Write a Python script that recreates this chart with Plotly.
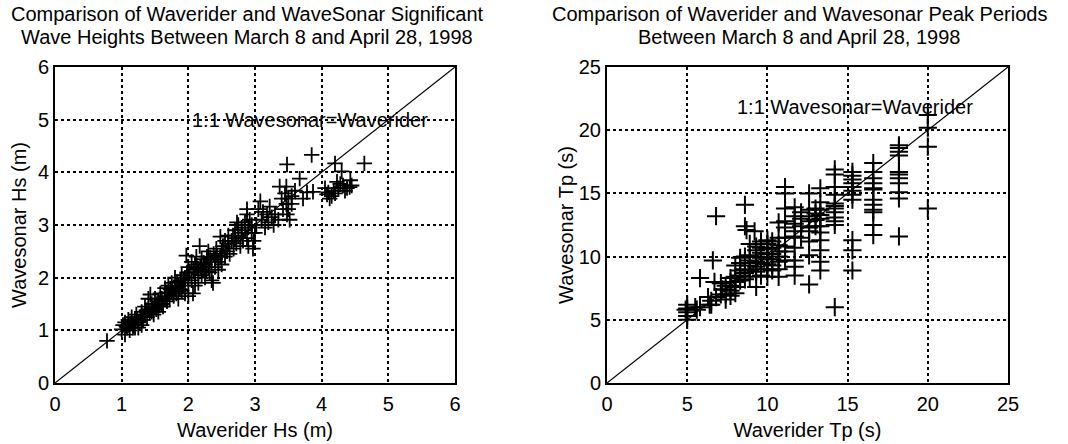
import plotly.graph_objects as go

# ---------------- data ----------------
# Left panel: significant wave heights (Waverider Hs, Wavesonar Hs), metres
hs_pairs = [
    (0.78, 0.80),
    (1.00, 1.02), (1.02, 1.10), (1.05, 0.92), (1.05, 1.15), (1.08, 1.05), (1.10, 1.10),
    (1.10, 1.20), (1.12, 1.00), (1.15, 1.15), (1.15, 1.25), (1.18, 1.10), (1.20, 1.05),
    (1.20, 1.20), (1.22, 1.30), (1.25, 1.15), (1.25, 1.05), (1.28, 1.25), (1.30, 1.35),
    (1.30, 1.10), (1.32, 1.20), (1.07, 1.08), (1.13, 1.12), (1.17, 1.05), (1.23, 1.22),
    (1.35, 1.30), (1.35, 1.45), (1.38, 1.25), (1.40, 1.40), (1.40, 1.60), (1.43, 1.68),
    (1.45, 1.35), (1.45, 1.50), (1.48, 1.30), (1.50, 1.45), (1.50, 1.60), (1.52, 1.40),
    (1.55, 1.55), (1.55, 1.35), (1.58, 1.70), (1.60, 1.50), (1.60, 1.60), (1.62, 1.45),
    (1.37, 1.38), (1.42, 1.33), (1.47, 1.42), (1.53, 1.50), (1.57, 1.48),
    (1.65, 1.65), (1.65, 1.80), (1.68, 1.55), (1.70, 1.70), (1.70, 1.85), (1.72, 1.60),
    (1.75, 1.75), (1.75, 1.90), (1.78, 1.65), (1.80, 1.80), (1.80, 2.00), (1.82, 1.70),
    (1.85, 1.85), (1.85, 1.60), (1.88, 1.95), (1.90, 1.75), (1.90, 2.05), (1.92, 1.85),
    (1.95, 1.70), (1.95, 2.00), (1.98, 2.10), (2.00, 1.90), (2.00, 2.20), (2.00, 1.65),
    (1.97, 2.42), (2.07, 1.70), (1.67, 1.72), (1.73, 1.78), (1.77, 1.70), (1.83, 1.92),
    (1.87, 1.78), (1.93, 1.95),
    (2.02, 2.10), (2.05, 1.95), (2.05, 2.30), (2.08, 2.15), (2.10, 2.00), (2.10, 2.25),
    (2.12, 2.40), (2.15, 2.10), (2.15, 1.90), (2.18, 2.20), (2.20, 2.05), (2.20, 2.35),
    (2.22, 2.15), (2.25, 2.25), (2.25, 2.00), (2.28, 2.40), (2.30, 2.20), (2.30, 2.50),
    (2.32, 2.10), (2.35, 2.30), (2.35, 1.95), (2.38, 2.45), (2.40, 2.20), (2.40, 2.35),
    (2.42, 2.55), (2.45, 2.30), (2.45, 2.15), (2.48, 2.40), (2.50, 2.50), (2.50, 2.25),
    (2.10, 1.85), (2.17, 2.60), (2.37, 1.90), (2.13, 2.18), (2.23, 2.28), (2.27, 2.12),
    (2.33, 2.38), (2.43, 2.42),
    (2.52, 2.60), (2.55, 2.40), (2.55, 2.70), (2.58, 2.50), (2.60, 2.65), (2.60, 2.80),
    (2.62, 2.45), (2.65, 2.70), (2.68, 2.55), (2.70, 2.75), (2.70, 2.90), (2.72, 2.65),
    (2.75, 2.80), (2.75, 3.00), (2.78, 2.60), (2.80, 2.85), (2.80, 2.95), (2.82, 2.70),
    (2.85, 2.90), (2.85, 3.05), (2.88, 2.75), (2.90, 2.95), (2.90, 2.60), (2.92, 3.10),
    (2.95, 2.85), (2.95, 3.00), (2.98, 2.70), (2.88, 3.20), (2.73, 3.05), (2.67, 2.80),
    (2.97, 2.55), (2.88, 3.30), (2.48, 2.78),
    (3.00, 2.85), (3.02, 3.00), (3.05, 3.30), (3.08, 3.45), (3.10, 3.10), (3.12, 3.25),
    (3.15, 2.95), (3.18, 3.20), (3.20, 3.05), (3.22, 3.35), (3.25, 3.15), (3.28, 3.00),
    (3.30, 3.20), (3.35, 3.10), (3.40, 3.50), (3.42, 3.30), (3.45, 3.60), (3.47, 3.40),
    (3.48, 3.20), (3.50, 3.50), (3.52, 3.10), (3.50, 3.30), (3.37, 3.73), (3.47, 3.73),
    (3.48, 4.15),
    (3.55, 3.55), (3.60, 3.65), (3.67, 3.88), (3.72, 3.50), (3.78, 3.62), (3.85, 4.33),
    (3.87, 3.63), (3.55, 3.40),
    (4.05, 3.70), (4.08, 3.58), (4.10, 3.62), (4.12, 3.50), (4.15, 3.55), (4.18, 3.65),
    (4.20, 3.60), (4.23, 3.82), (4.20, 4.17), (4.25, 3.70), (4.28, 3.78), (4.30, 4.02),
    (4.32, 3.75), (4.35, 3.65), (4.38, 3.70), (4.43, 3.85), (4.42, 3.72), (4.45, 3.75),
    (4.64, 4.17),
]
hs_waverider = [p[0] for p in hs_pairs]
hs_wavesonar = [p[1] for p in hs_pairs]

# Right panel: peak periods (Waverider Tp, Wavesonar Tp), seconds
tp_pairs = [
    (5.0, 5.0), (5.0, 5.3), (5.0, 5.6), (5.0, 5.9), (5.0, 6.2), (4.9, 5.8),
    (5.5, 6.0), (5.6, 5.8), (5.8, 8.3), (5.8, 6.0),
    (6.3, 6.8), (6.4, 6.2), (6.5, 6.5), (6.5, 6.2), (6.6, 9.7), (6.7, 8.0),
    (6.8, 13.2), (6.8, 6.8),
    (7.1, 7.9), (7.1, 7.0), (7.2, 7.4),
    (7.4, 6.6), (7.4, 7.0), (7.4, 7.4), (7.4, 7.7),
    (7.7, 6.9), (7.7, 7.3), (7.7, 7.7), (7.7, 8.0), (7.7, 8.3),
    (8.0, 7.1), (8.0, 7.6), (8.0, 8.0), (8.0, 8.4), (8.0, 9.3),
    (8.3, 8.1), (8.3, 8.5), (8.3, 8.9), (8.3, 9.5), (8.3, 9.9),
    (8.6, 8.2), (8.6, 8.7), (8.6, 9.0), (8.6, 9.5), (8.6, 10.0), (8.6, 12.4),
    (8.6, 14.1), (8.7, 12.1),
    (8.9, 8.4), (8.9, 8.9), (8.9, 9.3), (8.9, 9.7), (8.9, 10.1), (8.9, 11.0),
    (9.3, 7.6), (9.3, 8.8), (9.3, 9.2), (9.3, 9.6), (9.3, 10.0), (9.3, 10.5),
    (9.3, 10.8), (9.2, 12.0),
    (9.6, 8.5), (9.6, 9.0), (9.6, 9.5), (9.6, 9.9), (9.6, 10.3), (9.6, 10.7), (9.6, 11.2),
    (10.0, 8.4), (10.0, 9.0), (10.0, 9.4), (10.0, 9.8), (10.0, 10.2), (10.0, 10.6),
    (10.0, 11.0), (10.0, 11.3),
    (10.3, 8.9), (10.3, 9.3), (10.3, 9.8), (10.3, 10.2), (10.3, 10.7), (10.3, 11.2),
    (10.7, 8.4), (10.7, 9.0), (10.7, 9.6), (10.7, 10.0), (10.7, 10.4), (10.7, 10.9),
    (10.7, 11.5), (10.7, 12.7),
    (11.1, 9.7), (11.1, 10.4), (11.1, 10.8), (11.1, 11.5), (11.1, 12.3), (11.1, 12.8),
    (11.1, 13.8), (11.1, 15.0), (11.1, 15.5),
    (11.7, 8.5), (11.7, 9.2), (11.7, 9.7), (11.7, 10.7), (11.7, 11.6), (11.7, 12.0),
    (11.7, 12.6), (11.7, 13.2), (11.7, 13.9),
    (12.1, 11.5), (12.1, 12.4), (12.1, 13.0), (12.1, 13.5),
    (12.6, 7.8), (12.6, 10.1), (12.6, 11.2), (12.6, 12.0), (12.6, 12.3), (12.6, 12.8),
    (12.6, 13.2), (12.6, 13.7), (12.6, 15.0),
    (13.0, 12.4), (13.0, 12.9), (13.0, 13.4), (13.0, 13.8),
    (13.3, 8.9), (13.3, 9.6), (13.3, 10.5), (13.3, 11.3), (13.3, 11.9), (13.3, 12.4),
    (13.3, 13.0), (13.3, 13.3), (13.3, 13.7), (13.3, 14.3), (13.3, 15.4),
    (14.2, 6.0), (14.2, 12.5), (14.2, 12.8), (14.2, 13.1), (14.2, 13.5), (14.2, 13.8),
    (14.2, 14.0), (14.2, 14.2), (14.2, 14.9), (14.2, 15.5), (14.2, 16.5), (14.2, 16.9),
    (15.3, 8.9), (15.3, 10.5), (15.3, 11.3), (15.3, 14.5), (15.3, 14.9), (15.3, 15.2),
    (15.3, 15.5), (15.3, 15.8), (15.3, 16.1), (15.3, 16.4), (15.3, 16.7),
    (16.6, 11.7), (16.6, 12.5), (16.6, 13.5), (16.6, 13.7), (16.6, 14.1), (16.6, 14.5),
    (16.6, 15.3), (16.6, 15.4), (16.6, 15.8), (16.6, 16.2), (16.6, 16.7), (16.6, 17.4),
    (18.2, 11.6), (18.2, 14.6), (18.2, 15.1), (18.2, 15.8), (18.2, 16.2), (18.2, 16.5),
    (18.2, 16.7), (18.2, 18.0), (18.2, 18.3), (18.2, 18.6), (18.2, 18.8),
    (20.0, 13.8), (20.0, 18.7), (20.0, 20.2), (20.0, 21.2),
]
tp_waverider = [p[0] for p in tp_pairs]
tp_wavesonar = [p[1] for p in tp_pairs]

hs_ticks = [0, 1, 2, 3, 4, 5, 6]
tp_ticks = [0, 5, 10, 15, 20, 25]
hs_line = [0, 6]
tp_line = [0, 25]

left_title = ["Comparison of Waverider and WaveSonar Significant",
              "Wave Heights Between March 8 and April 28, 1998"]
right_title = ["Comparison of Waverider and Wavesonar Peak Periods",
               "Between March 8 and April 28, 1998"]
line_label = "1:1 Wavesonar=Waverider"

# ---------------- figure ----------------
W, H = 1068, 444
FONT = "Arial, Liberation Sans, sans-serif"
FS = 20

fig = go.Figure()

fig.add_trace(go.Scatter(x=hs_line, y=hs_line, mode="lines",
                         line=dict(color="black", width=1.2),
                         xaxis="x", yaxis="y", showlegend=False, hoverinfo="skip"))
fig.add_trace(go.Scatter(x=hs_waverider, y=hs_wavesonar, mode="markers",
                         marker=dict(symbol="cross-thin", size=11,
                                     line=dict(color="black", width=1.8)),
                         xaxis="x", yaxis="y", showlegend=False))
fig.add_trace(go.Scatter(x=tp_line, y=tp_line, mode="lines",
                         line=dict(color="black", width=1.2),
                         xaxis="x2", yaxis="y2", showlegend=False, hoverinfo="skip"))
fig.add_trace(go.Scatter(x=tp_waverider, y=tp_wavesonar, mode="markers",
                         marker=dict(symbol="cross-thin", size=13,
                                     line=dict(color="black", width=2)),
                         xaxis="x2", yaxis="y2", showlegend=False))


def px_x(p):
    return p / W


def px_y(p):
    return 1 - p / H


axis_common = dict(
    showline=True, linecolor="black", linewidth=2, mirror=True,
    showgrid=True, gridcolor="black", gridwidth=1.6, griddash="dot",
    zeroline=False, ticks="", automargin=False,
    tickfont=dict(family=FONT, size=FS, color="black"),
    title_font=dict(family=FONT, size=FS, color="black"),
)

fig.update_layout(
    width=W, height=H,
    margin=dict(l=0, r=0, t=0, b=0),
    paper_bgcolor="white", plot_bgcolor="white",
    font=dict(family=FONT, size=FS, color="black"),
    xaxis=dict(axis_common, domain=[px_x(55), px_x(455)], range=[0, 6],
               tickvals=hs_ticks, anchor="y", ticklabelstandoff=2,
               title=dict(text="Waverider Hs (m)", standoff=9)),
    yaxis=dict(axis_common, domain=[px_y(383), px_y(67)], range=[0, 6],
               tickvals=hs_ticks, anchor="x", ticklabelstandoff=0,
               title=dict(text="Wavesonar Hs (m)", standoff=6)),
    xaxis2=dict(axis_common, domain=[px_x(607), px_x(1008)], range=[0, 25],
                tickvals=tp_ticks, anchor="y2", ticklabelstandoff=2,
                title=dict(text="Waverider Tp (s)", standoff=9)),
    yaxis2=dict(axis_common, domain=[px_y(383), px_y(67)], range=[0, 25],
                tickvals=tp_ticks, anchor="x2", ticklabelstandoff=0,
                title=dict(text="Wavesonar Tp (s)", standoff=0)),
)

annotations = []
for i, line in enumerate(left_title):
    annotations.append(dict(text=line, xref="paper", yref="paper",
                            x=px_x(247), y=px_y(14 + 23 * i), xanchor="center",
                            yanchor="middle", showarrow=False,
                            font=dict(family=FONT, size=FS, color="black")))
for i, line in enumerate(right_title):
    annotations.append(dict(text=line, xref="paper", yref="paper",
                            x=px_x(799), y=px_y(14 + 23 * i), xanchor="center",
                            yanchor="middle", showarrow=False,
                            font=dict(family=FONT, size=FS, color="black")))
annotations.append(dict(text=line_label, xref="x", yref="y", x=2.03, y=5.0,
                        xanchor="left", yanchor="middle", showarrow=False,
                        font=dict(family=FONT, size=FS, color="black")))
annotations.append(dict(text=line_label, xref="x2", yref="y2", x=7.98, y=21.8,
                        xanchor="left", yanchor="middle", showarrow=False,
                        font=dict(family=FONT, size=FS, color="black")))
fig.update_layout(annotations=annotations)

fig.write_html("out.html", config={"displayModeBar": False},
               post_script="document.body.style.margin='0px';")
